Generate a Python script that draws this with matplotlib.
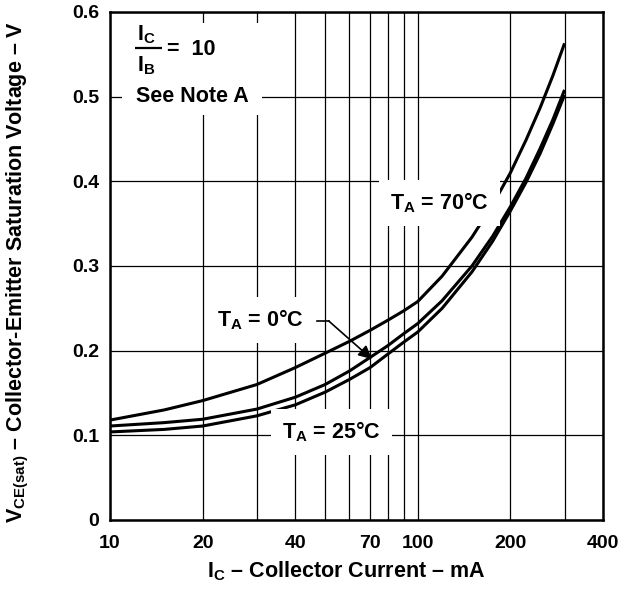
import matplotlib
matplotlib.use("Agg")
import matplotlib.pyplot as plt
from matplotlib.patches import Rectangle
from matplotlib.ticker import NullFormatter

plt.rcParams['font.family'] = ['Liberation Sans', 'DejaVu Sans']
plt.rcParams['font.weight'] = 'bold'
plt.rcParams['mathtext.fontset'] = 'custom'
plt.rcParams['mathtext.rm'] = 'Liberation Sans:bold'
plt.rcParams['mathtext.it'] = 'Liberation Sans:bold'
plt.rcParams['mathtext.bf'] = 'Liberation Sans:bold'

# ---- data ----
ic_ma = [10, 15, 20, 30, 40, 50, 60, 70, 80, 90, 100, 120, 150, 175, 200, 225, 250, 275, 300]
vce_70c = [0.118, 0.130, 0.141, 0.160, 0.180, 0.197, 0.211, 0.224, 0.236, 0.247,
           0.258, 0.288, 0.334, 0.372, 0.410, 0.449, 0.487, 0.525, 0.563]
vce_0c = [0.111, 0.115, 0.119, 0.131, 0.145, 0.160, 0.176, 0.192, 0.206, 0.220,
          0.232, 0.259, 0.300, 0.335, 0.370, 0.404, 0.439, 0.473, 0.508]
vce_25c = [0.104, 0.107, 0.111, 0.123, 0.136, 0.151, 0.166, 0.180, 0.196, 0.210,
           0.222, 0.250, 0.293, 0.329, 0.365, 0.399, 0.433, 0.468, 0.502]

x_grid = [10, 20, 30, 40, 50, 60, 70, 80, 90, 100, 200, 300, 400]
x_labels = ['10', '20', '', '40', '', '', '70', '', '', '100', '200', '', '400']
y_ticks = [0, 0.1, 0.2, 0.3, 0.4, 0.5, 0.6]
y_labels = ['0', '0.1', '0.2', '0.3', '0.4', '0.5', '0.6']

fs_tick = 14
fs_ann = 15.5
fs_lab = 15.5
fig = plt.figure(figsize=(6.4, 5.92), dpi=100)
ax = fig.add_axes([110 / 640, 1 - 520 / 592, 493 / 640, 508 / 592])
ax.set_xscale('log')
ax.set_xlim(10, 400)
ax.set_ylim(0, 0.6)

ax.set_xticks(x_grid)
ax.set_xticklabels(x_labels)
ax.set_xticks([80], minor=True)
ax.xaxis.set_minor_formatter(NullFormatter())
ax.set_yticks(y_ticks)
ax.set_yticklabels(y_labels)
ax.tick_params(which='major', length=0, labelsize=fs_tick)
ax.tick_params(axis='x', which='major', pad=11)
ax.tick_params(axis='y', which='major', pad=8)
ax.tick_params(axis='x', which='minor', length=4, width=0.9, direction='out')
for lbl in ax.get_xticklabels() + ax.get_yticklabels():
    lbl.set_fontweight('bold')

ax.set_axisbelow(True)
ax.grid(True, which='major', color='black', linewidth=0.9)
for s in ax.spines.values():
    s.set_linewidth(1.8)

for v in (vce_70c, vce_0c, vce_25c):
    ax.plot(ic_ma, v, color='black', linewidth=2.2, zorder=3,
            solid_capstyle='butt', solid_joinstyle='round')

# ---- annotations ----
ax.add_patch(Rectangle((0.024, 0.797), 0.284, 0.181, transform=ax.transAxes,
                       facecolor='white', edgecolor='none', zorder=2))
ax.text(0.0548, 0.945, r'I$_{\rm C}$', transform=ax.transAxes,
        fontsize=fs_ann, fontweight='bold', ha='left', va='baseline', zorder=4)
ax.plot([0.0507, 0.1055], [0.930, 0.930], transform=ax.transAxes,
        color='black', linewidth=1.6, zorder=4, solid_capstyle='butt')
ax.text(0.0548, 0.884, r'I$_{\rm B}$', transform=ax.transAxes,
        fontsize=fs_ann, fontweight='bold', ha='left', va='baseline', zorder=4)
ax.text(0.1156, 0.927, '=  10', transform=ax.transAxes,
        fontsize=fs_ann, fontweight='bold', ha='left', va='center', zorder=4)
ax.text(0.053, 0.833, 'See Note A', transform=ax.transAxes,
        fontsize=fs_ann, fontweight='bold', ha='left', va='center', zorder=4)

box = dict(boxstyle='square,pad=0.5', facecolor='white', edgecolor='none')
ax.text(0.568, 0.624, r'T$_{\rm A}$ = 70°C', transform=ax.transAxes, fontsize=fs_ann,
        fontweight='bold', ha='left', va='center', bbox=box, zorder=4)
ax.text(0.217, 0.394, r'T$_{\rm A}$ = 0°C', transform=ax.transAxes, fontsize=fs_ann,
        fontweight='bold', ha='left', va='center', bbox=box, zorder=4)
ax.text(0.349, 0.173, r'T$_{\rm A}$ = 25°C', transform=ax.transAxes, fontsize=fs_ann,
        fontweight='bold', ha='left', va='center', bbox=box, zorder=4)

ax.plot([46.9, 51.4], [0.235, 0.235], color='black', linewidth=1.2, zorder=5)
ax.annotate('', xy=(71, 0.190), xytext=(51.4, 0.235),
            arrowprops=dict(arrowstyle='-|>', color='black', lw=1.2,
                            mutation_scale=20, shrinkA=0, shrinkB=0), zorder=5)

ax.set_xlabel(r'I$_{\rm C}$ – Collector Current – mA', fontsize=fs_ann, fontweight='bold')
ax.xaxis.set_label_coords((346 - 110) / 493, (520 - 559) / 508)
fig.text(18 / 640, 1 - 272 / 592,
         r'V$_{\rm CE(sat)}$ – Collector-Emitter Saturation Voltage – V',
         rotation=90, ha='center', va='center', fontsize=fs_lab, fontweight='bold')

fig.savefig('out.png', dpi=100)
